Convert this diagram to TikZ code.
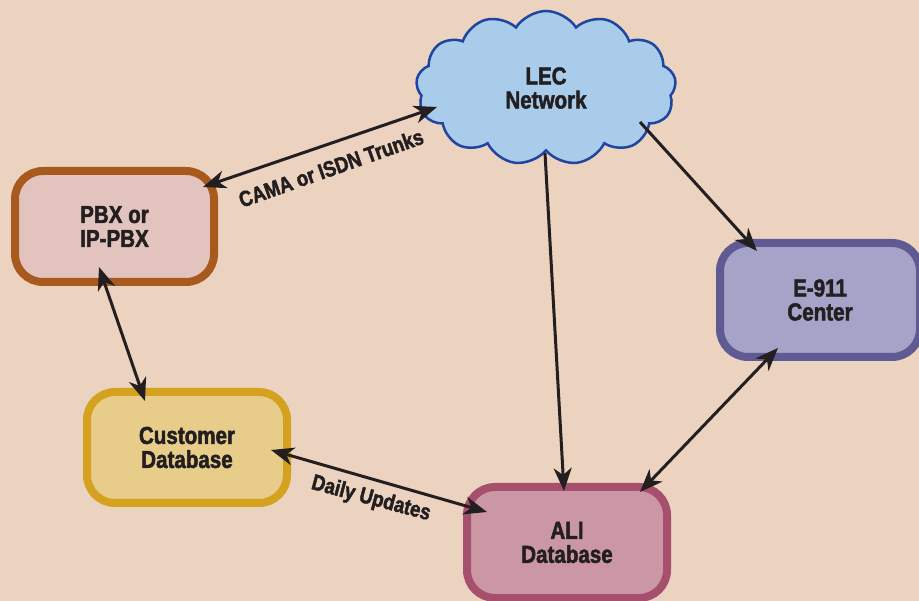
\documentclass[tikz,border=0pt]{standalone}
\usepackage{fontspec}
\setmainfont{Liberation Sans}[FakeStretch=0.84, BoldFont={Liberation Sans Bold}, BoldFeatures={FakeStretch=0.84, FakeBold=2}]
\usetikzlibrary{shapes.symbols,arrows.meta}
\definecolor{bg}{HTML}{ECD3C0}
\definecolor{ink}{HTML}{231F20}
\definecolor{pbxfill}{HTML}{E3C3BD}
\definecolor{pbxline}{HTML}{A85A1E}
\definecolor{custfill}{HTML}{E8CD8A}
\definecolor{custline}{HTML}{D4A21F}
\definecolor{alifill}{HTML}{CC97A5}
\definecolor{aliline}{HTML}{A6506E}
\definecolor{efill}{HTML}{A5A3C8}
\definecolor{eline}{HTML}{5F5B92}
\definecolor{cloudfill}{HTML}{A9CCEB}
\definecolor{cloudline}{HTML}{1F45A0}
\tikzset{
  box/.style={rectangle, rounded corners=28pt, line width=8pt, minimum width=199pt, minimum height=111pt, inner sep=0pt, align=center, text=ink, font=\fontsize{24.5}{24}\selectfont\bfseries},
  conn/.style={line width=3pt, draw=ink, {Stealth[length=23pt,width=18pt,inset=7pt]}-{Stealth[length=23pt,width=18pt,inset=7pt]}},
  oneway/.style={line width=3pt, draw=ink, -{Stealth[length=23pt,width=18pt,inset=7pt]}},
  lbl/.style={text=ink, font=\fontsize{22}{22}\selectfont\bfseries, inner sep=0pt}
}
\begin{document}
\begin{tikzpicture}[x=1pt,y=-1pt]
\useasboundingbox (0,0) rectangle (919,601);
\fill[bg] (0,0) rectangle (919,601);
\node[cloud, cloud puffs=13, cloud puff arc=115, aspect=1.7, minimum width=260pt, minimum height=154pt, inner sep=0pt, fill=cloudfill, draw=cloudline, line width=2.5pt, align=center, text=ink, font=\fontsize{24.5}{24}\selectfont\bfseries] (lec) at (546,88) {LEC\\Network};
\node[box, fill=pbxfill, draw=pbxline] (pbx) at (114.5,226.5) {PBX or\\IP-PBX};
\node[box, fill=custfill, draw=custline, minimum width=200pt] (cust) at (187,447.5) {Customer\\Database};
\node[box, fill=alifill, draw=aliline, minimum width=200pt] (ali) at (567,542.5) {ALI\\Database};
\node[box, fill=efill, draw=eline, minimum width=200pt, minimum height=114pt] (e911) at (820,300) {E-911\\Center};
\draw[conn] ([shift={(88.5,-39.5)}]pbx.center) -- ([shift={(-109,19)}]lec.center);
\draw[conn] ([shift={(-15.5,40.5)}]pbx.center) -- ([shift={(-42,-46.5)}]cust.center);
\draw[conn] ([shift={(84,2.5)}]cust.center) -- ([shift={(-80,-30.5)}]ali.center);
\draw[oneway] ([shift={(-1,65)}]lec.center) -- ([shift={(-3,-51.5)}]ali.center);
\draw[oneway] ([shift={(94,34)}]lec.center) -- ([shift={(-63,-49)}]e911.center);
\draw[conn] ([shift={(-42,48)}]e911.center) -- ([shift={(73,-50.5)}]ali.center);
\node[lbl, rotate=19.5] (camalbl) at (331,168) {CAMA or ISDN Trunks};
\node[lbl, rotate=-15] (dailylbl) at (371,499) {Daily Updates};
\end{tikzpicture}
\end{document}
